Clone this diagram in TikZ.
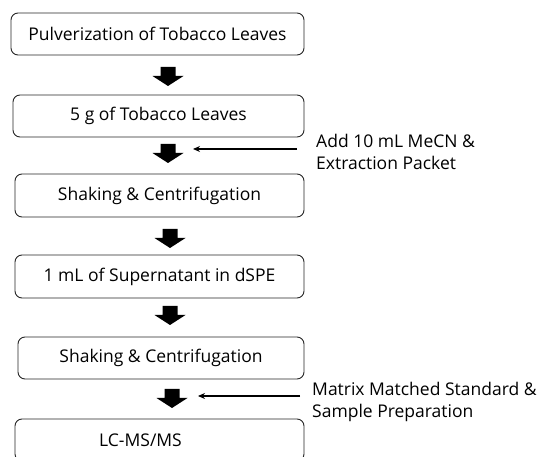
\documentclass[tikz,border=0pt]{standalone}
\usepackage{fontspec}
\setmainfont{Open Sans}
\usetikzlibrary{arrows.meta}

\begin{document}
\begin{tikzpicture}[x=1pt, y=-1pt, font=\fontsize{17.5}{22}\selectfont,
  stepbox/.style = {draw=black!85, line width=0.9pt, rounded corners=7pt, minimum height=42pt, inner sep=0pt},
  side/.style = {align=left, inner sep=0pt, anchor=west},
  thin/.style = {line width=1.3pt, -{Stealth[length=7pt,width=6pt]}}]
\useasboundingbox (0,0) rectangle (542,457);
\fill[white] (0,0) rectangle (542,457);
\clip (0,0) rectangle (542,457);

\node[stepbox, minimum width=293pt] (1) at (157.5,34) {Pulverization of Tobacco Leaves};
\node[stepbox, minimum width=291pt] (2) at (158.5,116) {5 g of Tobacco Leaves};
\node[stepbox, minimum width=289pt, minimum height=43pt] (3) at (159.5,195.5) {Shaking \& Centrifugation};
\node[stepbox, minimum width=289pt, minimum height=43pt] (4) at (159.5,276.5) {1 mL of Supernatant in dSPE};
\node[stepbox, minimum width=286pt] (5) at (161,358) {Shaking \& Centrifugation};
\node[stepbox, minimum width=289pt] (6) at (159.5,440) {LC-MS/MS\hspace*{38pt}};

% block arrows between the steps
\foreach \n/\x/\y in {1/168/67, 2/168/144, 3/170/229, 4/170/306, 5/172/389} {
  \coordinate (a\n) at (\x,\y);
  \fill (\x-7.5,\y) -- (\x+7.5,\y) -- (\x+7.5,\y+9) -- (\x+15.5,\y+9) -- (\x,\y+19)
        -- (\x-15.5,\y+9) -- (\x-7.5,\y+9) -- cycle;
}

\node[side] (add) at (316,151.5) {Add 10 mL MeCN \&\\Extraction Packet};
\node[side] (mms) at (312,402) {Matrix Matched Standard \&\\Sample Preparation};

\draw[thin] ([xshift=-19pt,yshift=2.5pt]add.west) -- ([shift={(25,5)}]a2);
\draw[thin] ([xshift=-12pt,yshift=6pt]mms.west) -- ([shift={(26,7)}]a5);
\end{tikzpicture}
\end{document}
